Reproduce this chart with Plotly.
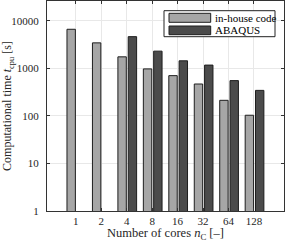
import plotly.graph_objects as go

cores = ["1", "2", "4", "8", "16", "32", "64", "128"]
inhouse = [6600, 3420, 1740, 970, 700, 467, 212, 103]
abaqus = [None, None, 4620, 2290, 1435, 1167, 550, 343]
ytick_vals = [1, 10, 100, 1000, 10000]
ytick_text = ["1", "10", "100", "1000", "10000"]
series_names = ["in-house code", "ABAQUS"]
x_title = "Number of cores <i>n</i><sub>C</sub> [–]"
y_title = "Computational time <i>t</i><sub>cpu</sub> [s]"

C_IN = "#a6a6a6"
C_AB = "#4b4b4b"
EDGE = "#1e1e1e"
FONT = "Liberation Serif"

xs = list(range(len(cores)))

fig = go.Figure()
fig.add_trace(go.Bar(x=xs, y=inhouse, name=series_names[0], offset=-0.345, width=0.33,
                     marker=dict(color=C_IN, line=dict(color=EDGE, width=1)), showlegend=False))
fig.add_trace(go.Bar(x=xs, y=abaqus, name=series_names[1], offset=0.06, width=0.33,
                     marker=dict(color=C_AB, line=dict(color=EDGE, width=1)), showlegend=False))

# manual legend (layout decoration)
L, R, T, B = 47, 284, 1, 211
def px(x): return (x - L) / (R - L)
def py(y): return (B - y) / (B - T)

shapes = [
    dict(type="rect", xref="paper", yref="paper", x0=px(164), x1=px(275), y0=py(36.7), y1=py(10.7),
         line=dict(color="#222", width=1), fillcolor="white", layer="above"),
    dict(type="rect", xref="paper", yref="paper", x0=px(169), x1=px(210.7), y0=py(22.3), y1=py(13.3),
         line=dict(color=EDGE, width=1), fillcolor=C_IN, layer="above"),
    dict(type="rect", xref="paper", yref="paper", x0=px(169), x1=px(210.7), y0=py(34.7), y1=py(26),
         line=dict(color=EDGE, width=1), fillcolor=C_AB, layer="above"),
]
annotations = [
    dict(xref="paper", yref="paper", x=px(213), y=py(17.8), text=series_names[0], showarrow=False,
         xanchor="left", yanchor="middle", font=dict(family=FONT, size=11, color="black")),
    dict(xref="paper", yref="paper", x=px(213), y=py(30.3), text=series_names[1], showarrow=False,
         xanchor="left", yanchor="middle", font=dict(family=FONT, size=11, color="black")),
    dict(xref="paper", yref="paper", x=px(165.5), y=py(233.5), text=x_title, showarrow=False,
         xanchor="center", yanchor="middle", font=dict(family=FONT, size=12.5, color="#262626")),
]

fig.update_layout(
    width=285, height=242,
    margin=dict(l=47, r=1, t=1, b=31),
    paper_bgcolor="white", plot_bgcolor="white",
    font=dict(family=FONT, size=11, color="#262626"),
    barmode="overlay",
    shapes=shapes, annotations=annotations,
    showlegend=False,
)
fig.update_xaxes(
    range=[-1.13, 8.18], tickvals=xs, ticktext=cores,
    showgrid=True, gridcolor="#e8e8e8", gridwidth=1,
    showline=True, linecolor="#333", linewidth=1, mirror="ticks",
    ticks="inside", ticklen=3, tickcolor="#333", ticklabelstandoff=0,
    automargin=False, zeroline=False,
)
fig.update_yaxes(
    type="log", range=[0, 4.414], tickvals=ytick_vals, ticktext=ytick_text,
    showgrid=True, gridcolor="#e8e8e8", gridwidth=1,
    showline=True, linecolor="#333", linewidth=1, mirror="ticks",
    ticks="inside", ticklen=3, tickcolor="#333", ticklabelstandoff=5,
    title=dict(text=y_title, font=dict(family=FONT, size=12, color="#262626"), standoff=4),
    automargin=False, zeroline=False,
)

fig.write_html("out.html", config={"displayModeBar": False},
               post_script="document.body.style.margin='0';document.body.style.overflow='hidden';")
